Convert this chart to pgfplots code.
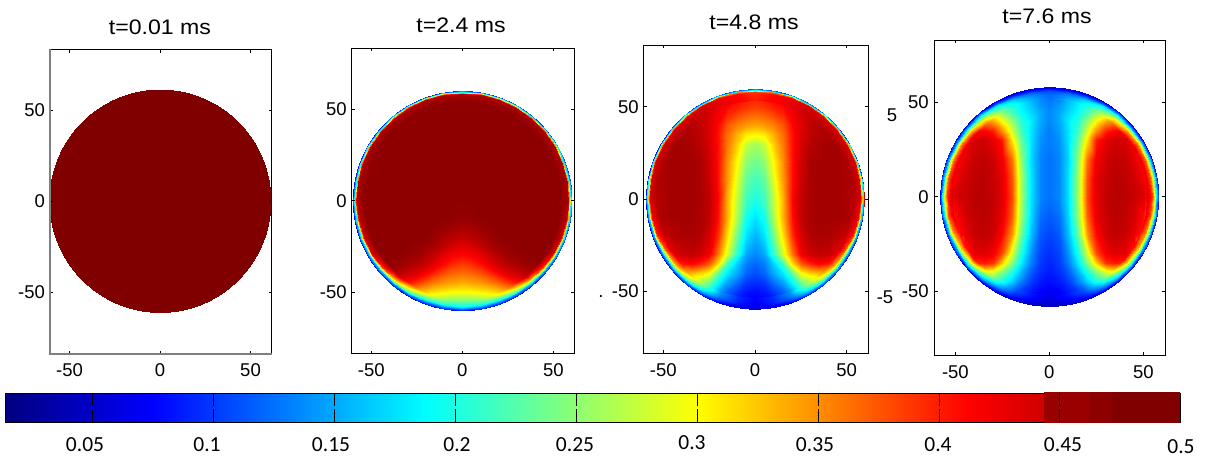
\documentclass[border=0pt]{standalone}
\usepackage{pgfplots}
\usepackage{pgfplotstable}
\usepackage{fontspec}
\setmainfont{Liberation Sans}
\newfontfamily\calibri{Carlito}
\pgfplotsset{compat=1.18}
\pgfplotsset{colormap={jetbar}{rgb(14pt)=(0,0,.5); rgb(75pt)=(0,0,1); rgb(188pt)=(0,1,1); rgb(300pt)=(1,1,0); rgb(412pt)=(1,0,0); rgb(500pt)=(.5,0,0)}}
\pgfplotsset{panel/.style={scale only axis, anchor=south west, colormap name=jetbar, axis on top,
  point meta min=0.014, point meta max=0.5,
  xtick={-50,0,50}, ytick={-50,0,50}, tick align=inside, major tick length=3pt,
  tick style={black,line width=.7pt}, axis line style={black,line width=.9pt},
  /pgf/number format/assume math mode=true,
  ticklabel style={font=\fontsize{18.5}{19}\selectfont},
  xticklabel style={yshift=-6.5pt}, yticklabel style={xshift=-1.5pt}},
  fieldp/.style={surf, shader=interp, mesh/cols=13, point meta=\thisrow{v}},
  rimp/.style={surf, shader=interp, mesh/cols=5, point meta=\thisrow{v}}}

% ---- t=0.01 ms
\pgfplotstableread[row sep=\\]{x y v\\ -70 -70 .5\\ 70 -70 .5\\ -70 70 .5\\ 70 70 .5\\}\Aone

% ---- t=2.4 ms, right half; the left half is its mirror image
\pgfplotstableread[row sep=\\]{x y v\\
0 -60 .14\\5 -60 .14\\10 -60 .14\\15 -60 .14\\20 -60 .14\\25 -60 .14\\30 -60 .14\\35 -60 .14\\40 -60 .14\\45 -60 .14\\50 -60 .14\\55 -60 .14\\60 -60 .14\\
0 -55 .24\\5 -55 .24\\10 -55 .245\\15 -55 .25\\20 -55 .26\\25 -55 .27\\30 -55 .27\\35 -55 .27\\40 -55 .27\\45 -55 .27\\50 -55 .27\\55 -55 .27\\60 -55 .27\\
0 -50 .30\\5 -50 .30\\10 -50 .305\\15 -50 .31\\20 -50 .32\\25 -50 .33\\30 -50 .34\\35 -50 .35\\40 -50 .35\\45 -50 .35\\50 -50 .35\\55 -50 .35\\60 -50 .35\\
0 -45 .335\\5 -45 .34\\10 -45 .345\\15 -45 .355\\20 -45 .37\\25 -45 .385\\30 -45 .40\\35 -45 .42\\40 -45 .43\\45 -45 .43\\50 -45 .43\\55 -45 .43\\60 -45 .43\\
0 -40 .36\\5 -40 .365\\10 -40 .375\\15 -40 .39\\20 -40 .41\\25 -40 .43\\30 -40 .445\\35 -40 .46\\40 -40 .47\\45 -40 .48\\50 -40 .48\\55 -40 .48\\60 -40 .48\\
0 -35 .385\\5 -35 .39\\10 -35 .405\\15 -35 .425\\20 -35 .445\\25 -35 .46\\30 -35 .47\\35 -35 .48\\40 -35 .485\\45 -35 .49\\50 -35 .49\\55 -35 .49\\60 -35 .49\\
0 -30 .41\\5 -30 .415\\10 -30 .43\\15 -30 .45\\20 -30 .465\\25 -30 .48\\30 -30 .485\\35 -30 .49\\40 -30 .49\\45 -30 .49\\50 -30 .49\\55 -30 .49\\60 -30 .49\\
0 -25 .43\\5 -25 .44\\10 -25 .455\\15 -25 .47\\20 -25 .48\\25 -25 .485\\30 -25 .49\\35 -25 .49\\40 -25 .49\\45 -25 .49\\50 -25 .49\\55 -25 .49\\60 -25 .49\\
0 -20 .455\\5 -20 .46\\10 -20 .47\\15 -20 .48\\20 -20 .49\\25 -20 .49\\30 -20 .49\\35 -20 .49\\40 -20 .49\\45 -20 .49\\50 -20 .49\\55 -20 .49\\60 -20 .49\\
0 -10 .485\\5 -10 .487\\10 -10 .49\\15 -10 .49\\20 -10 .49\\25 -10 .49\\30 -10 .49\\35 -10 .49\\40 -10 .49\\45 -10 .49\\50 -10 .49\\55 -10 .49\\60 -10 .49\\
0 0 .49\\5 0 .49\\10 0 .49\\15 0 .49\\20 0 .49\\25 0 .49\\30 0 .49\\35 0 .49\\40 0 .49\\45 0 .49\\50 0 .49\\55 0 .49\\60 0 .49\\
0 62 .49\\5 62 .49\\10 62 .49\\15 62 .49\\20 62 .49\\25 62 .49\\30 62 .49\\35 62 .49\\40 62 .49\\45 62 .49\\50 62 .49\\55 62 .49\\60 62 .49\\
}\Atwo
\pgfplotstableread[row sep=\\]{r t v\\
54.2 -90 .25\\56.7 -90 .21\\58.2 -90 .185\\59.2 -90 .13\\60.6 -90 .07\\
54.2 -80 .265\\56.7 -80 .215\\58.2 -80 .185\\59.2 -80 .13\\60.6 -80 .07\\
54.2 -70 .30\\56.7 -70 .235\\58.2 -70 .19\\59.2 -70 .13\\60.6 -70 .07\\
54.2 -60 .365\\56.7 -60 .28\\58.2 -60 .21\\59.2 -60 .14\\60.6 -60 .07\\
54.2 -50 .445\\56.7 -50 .34\\58.2 -50 .24\\59.2 -50 .15\\60.6 -50 .07\\
54.2 -40 .48\\57 -40 .39\\58.4 -40 .27\\59.3 -40 .16\\60.6 -40 .07\\
54.2 -30 .49\\57.7 -30 .44\\58.8 -30 .30\\59.5 -30 .17\\60.6 -30 .07\\
54.2 -20 .49\\57.8 -20 .45\\58.8 -20 .32\\59.5 -20 .18\\60.6 -20 .07\\
54.2 -10 .49\\57.9 -10 .46\\58.8 -10 .34\\59.5 -10 .18\\60.6 -10 .08\\
54.2 0 .49\\57.9 0 .47\\58.8 0 .35\\59.5 0 .19\\60.6 0 .08\\
54.2 10 .49\\58.1 10 .47\\59 10 .36\\59.6 10 .2\\60.6 10 .09\\
54.2 20 .49\\58.3 20 .47\\59.1 20 .36\\59.7 20 .2\\60.6 20 .09\\
54.2 30 .49\\58.6 30 .47\\59.3 30 .36\\59.8 30 .2\\60.6 30 .09\\
54.2 40 .49\\58.7 40 .47\\59.3 40 .36\\59.8 40 .2\\60.6 40 .09\\
54.2 50 .49\\58.7 50 .47\\59.3 50 .36\\59.8 50 .2\\60.6 50 .09\\
54.2 60 .49\\58.7 60 .47\\59.3 60 .36\\59.8 60 .2\\60.6 60 .09\\
54.2 70 .49\\58.7 70 .47\\59.3 70 .36\\59.8 70 .2\\60.6 70 .09\\
54.2 80 .49\\58.7 80 .47\\59.3 80 .36\\59.8 80 .2\\60.6 80 .09\\
54.2 90 .49\\58.7 90 .47\\59.3 90 .36\\59.8 90 .2\\60.6 90 .09\\
}\Atworim

% ---- t=4.8 ms
\pgfplotstableread[row sep=\\]{x y v\\
0 -60 .05\\5 -60 .05\\10 -60 .05\\15 -60 .05\\20 -60 .05\\25 -60 .05\\30 -60 .05\\35 -60 .05\\40 -60 .05\\45 -60 .05\\50 -60 .05\\55 -60 .05\\60 -60 .05\\
0 -55 .07\\5 -55 .075\\10 -55 .08\\15 -55 .095\\20 -55 .11\\25 -55 .13\\30 -55 .15\\35 -55 .15\\40 -55 .15\\45 -55 .15\\50 -55 .15\\55 -55 .15\\60 -55 .15\\
0 -50 .08\\5 -50 .085\\10 -50 .10\\15 -50 .12\\20 -50 .15\\25 -50 .19\\30 -50 .22\\35 -50 .25\\40 -50 .25\\45 -50 .25\\50 -50 .25\\55 -50 .25\\60 -50 .25\\
0 -45 .095\\5 -45 .10\\10 -45 .125\\15 -45 .15\\20 -45 .19\\25 -45 .24\\30 -45 .26\\35 -45 .27\\40 -45 .25\\45 -45 .25\\50 -45 .25\\55 -45 .25\\60 -45 .25\\
0 -40 .11\\5 -40 .12\\10 -40 .15\\15 -40 .18\\20 -40 .23\\25 -40 .30\\30 -40 .32\\35 -40 .33\\40 -40 .31\\45 -40 .25\\50 -40 .25\\55 -40 .25\\60 -40 .25\\
0 -35 .12\\5 -35 .13\\10 -35 .165\\15 -35 .215\\20 -35 .31\\25 -35 .37\\30 -35 .395\\35 -35 .41\\40 -35 .40\\45 -35 .37\\50 -35 .35\\55 -35 .35\\60 -35 .35\\
0 -30 .135\\5 -30 .15\\10 -30 .205\\15 -30 .285\\20 -30 .36\\25 -30 .42\\30 -30 .445\\35 -30 .455\\40 -30 .45\\45 -30 .43\\50 -30 .40\\55 -30 .40\\60 -30 .40\\
0 -20 .155\\5 -20 .175\\10 -20 .235\\15 -20 .315\\20 -20 .39\\25 -20 .44\\30 -20 .465\\35 -20 .47\\40 -20 .47\\45 -20 .46\\50 -20 .45\\55 -20 .45\\60 -20 .45\\
0 -10 .175\\5 -10 .195\\10 -10 .26\\15 -10 .335\\20 -10 .405\\25 -10 .455\\30 -10 .47\\35 -10 .475\\40 -10 .475\\45 -10 .475\\50 -10 .47\\55 -10 .46\\60 -10 .45\\
0 0 .20\\5 0 .215\\10 0 .27\\15 0 .335\\20 0 .41\\25 0 .455\\30 0 .47\\35 0 .475\\40 0 .475\\45 0 .475\\50 0 .47\\55 0 .46\\60 0 .45\\
0 10 .215\\5 10 .23\\10 10 .285\\15 10 .345\\20 10 .405\\25 10 .45\\30 10 .47\\35 10 .475\\40 10 .475\\45 10 .475\\50 10 .47\\55 10 .47\\60 10 .45\\
0 20 .235\\5 20 .25\\10 20 .30\\15 20 .35\\20 20 .405\\25 20 .445\\30 20 .47\\35 20 .475\\40 20 .475\\45 20 .475\\50 20 .47\\55 20 .47\\60 20 .47\\
0 30 .26\\5 30 .275\\10 30 .32\\15 30 .36\\20 30 .405\\25 30 .44\\30 30 .46\\35 30 .47\\40 30 .475\\45 30 .475\\50 30 .47\\55 30 .47\\60 30 .47\\
0 35 .305\\5 35 .31\\10 35 .335\\15 35 .365\\20 35 .405\\25 35 .437\\30 35 .457\\35 35 .467\\40 35 .472\\45 35 .472\\50 35 .47\\55 35 .47\\60 35 .47\\
0 40 .34\\5 40 .345\\10 40 .355\\15 40 .375\\20 40 .41\\25 40 .435\\30 40 .455\\35 40 .465\\40 40 .47\\45 40 .47\\50 40 .47\\55 40 .47\\60 40 .47\\
0 50 .385\\5 50 .39\\10 50 .40\\15 50 .41\\20 50 .425\\25 50 .44\\30 50 .45\\35 50 .455\\40 50 .46\\45 50 .46\\50 50 .46\\55 50 .46\\60 50 .46\\
0 60 .41\\5 60 .41\\10 60 .42\\15 60 .43\\20 60 .44\\25 60 .45\\30 60 .46\\35 60 .46\\40 60 .46\\45 60 .46\\50 60 .46\\55 60 .46\\60 60 .46\\
}\Athree
\pgfplotstableread[row sep=\\]{r t v\\
53.5 -90 .075\\56 -90 .07\\57.5 -90 .065\\58.5 -90 .06\\59.9 -90 .05\\
53.5 -80 .095\\56 -80 .09\\57.5 -80 .085\\58.5 -80 .07\\59.9 -80 .05\\
53.5 -70 .14\\56 -70 .13\\57.5 -70 .11\\58.5 -70 .09\\59.9 -70 .06\\
53.5 -60 .24\\56 -60 .2\\57.5 -60 .165\\58.5 -60 .12\\59.9 -60 .06\\
53.5 -50 .33\\56 -50 .28\\57.5 -50 .22\\58.5 -50 .14\\59.9 -50 .07\\
53.5 -40 .40\\56 -40 .33\\57.5 -40 .25\\58.5 -40 .15\\59.9 -40 .07\\
53.5 -30 .44\\56 -30 .37\\57.5 -30 .27\\58.5 -30 .16\\59.9 -30 .07\\
53.5 -20 .45\\56.8 -20 .40\\57.9 -20 .29\\58.7 -20 .17\\59.9 -20 .07\\
53.5 -10 .46\\57 -10 .42\\58 -10 .31\\58.8 -10 .18\\59.9 -10 .08\\
53.5 0 .465\\57.4 0 .44\\58.2 0 .33\\58.9 0 .19\\59.9 0 .08\\
53.5 10 .47\\57.6 10 .44\\58.3 10 .35\\59 10 .2\\59.9 10 .08\\
53.5 20 .47\\57.8 20 .44\\58.5 20 .36\\59.1 20 .2\\59.9 20 .08\\
53.5 30 .47\\58 30 .44\\58.6 30 .36\\59.1 30 .2\\59.9 30 .09\\
53.5 40 .47\\58 40 .44\\58.6 40 .36\\59.1 40 .2\\59.9 40 .09\\
53.5 50 .46\\58 50 .44\\58.6 50 .36\\59.1 50 .2\\59.9 50 .09\\
53.5 60 .45\\58 60 .44\\58.6 60 .36\\59.1 60 .2\\59.9 60 .09\\
53.5 70 .43\\58 70 .42\\58.6 70 .36\\59.1 70 .2\\59.9 70 .09\\
53.5 80 .415\\58 80 .41\\58.6 80 .35\\59.1 80 .2\\59.9 80 .09\\
53.5 90 .40\\58 90 .39\\58.6 90 .34\\59.1 90 .2\\59.9 90 .09\\
}\Athreerim

% ---- t=7.6 ms
\pgfplotstableread[row sep=\\]{x y v\\
0 -60 .04\\5 -60 .04\\10 -60 .04\\15 -60 .04\\20 -60 .04\\25 -60 .04\\30 -60 .04\\35 -60 .04\\40 -60 .04\\45 -60 .04\\50 -60 .04\\55 -60 .04\\60 -60 .04\\
0 -55 .055\\5 -55 .06\\10 -55 .065\\15 -55 .07\\20 -55 .075\\25 -55 .08\\30 -55 .08\\35 -55 .08\\40 -55 .08\\45 -55 .08\\50 -55 .08\\55 -55 .08\\60 -55 .08\\
0 -50 .07\\5 -50 .075\\10 -50 .085\\15 -50 .10\\20 -50 .115\\25 -50 .13\\30 -50 .135\\35 -50 .13\\40 -50 .13\\45 -50 .13\\50 -50 .13\\55 -50 .13\\60 -50 .13\\
0 -45 .08\\5 -45 .085\\10 -45 .10\\15 -45 .13\\20 -45 .165\\25 -45 .195\\30 -45 .215\\35 -45 .205\\40 -45 .17\\45 -45 .13\\50 -45 .13\\55 -45 .13\\60 -45 .13\\
0 -40 .085\\5 -40 .095\\10 -40 .115\\15 -40 .155\\20 -40 .20\\25 -40 .245\\30 -40 .285\\35 -40 .295\\40 -40 .26\\45 -40 .16\\50 -40 .16\\55 -40 .16\\60 -40 .16\\
0 -35 .09\\5 -35 .10\\10 -35 .13\\15 -35 .18\\20 -35 .245\\25 -35 .32\\30 -35 .39\\35 -35 .40\\40 -35 .39\\45 -35 .33\\50 -35 .17\\55 -35 .17\\60 -35 .17\\
0 -30 .095\\5 -30 .105\\10 -30 .14\\15 -30 .20\\20 -30 .285\\25 -30 .38\\30 -30 .42\\35 -30 .435\\40 -30 .43\\45 -30 .39\\50 -30 .25\\55 -30 .1\\60 -30 .1\\
0 -20 .105\\5 -20 .115\\10 -20 .16\\15 -20 .235\\20 -20 .345\\25 -20 .41\\30 -20 .445\\35 -20 .455\\40 -20 .45\\45 -20 .43\\50 -20 .39\\55 -20 .25\\60 -20 .1\\
0 -10 .115\\5 -10 .125\\10 -10 .17\\15 -10 .255\\20 -10 .37\\25 -10 .425\\30 -10 .45\\35 -10 .46\\40 -10 .455\\45 -10 .44\\50 -10 .41\\55 -10 .33\\60 -10 .1\\
0 0 .125\\5 0 .135\\10 0 .175\\15 0 .26\\20 0 .38\\25 0 .43\\30 0 .455\\35 0 .46\\40 0 .46\\45 0 .45\\50 0 .44\\55 0 .38\\60 0 .1\\
0 10 .125\\5 10 .135\\10 10 .175\\15 10 .26\\20 10 .375\\25 10 .43\\30 10 .45\\35 10 .46\\40 10 .455\\45 10 .445\\50 10 .42\\55 10 .34\\60 10 .1\\
0 20 .125\\5 20 .135\\10 20 .17\\15 20 .25\\20 20 .36\\25 20 .42\\30 20 .445\\35 20 .455\\40 20 .45\\45 20 .43\\50 20 .40\\55 20 .25\\60 20 .1\\
0 30 .13\\5 30 .14\\10 30 .175\\15 30 .23\\20 30 .31\\25 30 .40\\30 30 .43\\35 30 .445\\40 30 .44\\45 30 .41\\50 30 .30\\55 30 .1\\60 30 .1\\
0 35 .13\\5 35 .145\\10 35 .175\\15 35 .215\\20 35 .28\\25 35 .35\\30 35 .40\\35 35 .415\\40 35 .41\\45 35 .37\\50 35 .25\\55 35 .1\\60 35 .1\\
0 40 .135\\5 40 .15\\10 40 .18\\15 40 .205\\20 40 .25\\25 40 .30\\30 40 .34\\35 40 .35\\40 40 .34\\45 40 .33\\50 40 .1\\55 40 .1\\60 40 .1\\
0 45 .135\\5 45 .15\\10 45 .17\\15 45 .19\\20 45 .215\\25 45 .245\\30 45 .27\\35 45 .285\\40 45 .27\\45 45 .15\\50 45 .15\\55 45 .15\\60 45 .15\\
0 50 .13\\5 50 .14\\10 50 .16\\15 50 .18\\20 50 .195\\25 50 .20\\30 50 .16\\35 50 .16\\40 50 .16\\45 50 .16\\50 50 .16\\55 50 .16\\60 50 .16\\
0 55 .12\\5 55 .125\\10 55 .14\\15 55 .13\\20 55 .08\\25 55 .08\\30 55 .08\\35 55 .08\\40 55 .08\\45 55 .08\\50 55 .08\\55 55 .08\\60 55 .08\\
0 60 .05\\5 60 .05\\10 60 .05\\15 60 .05\\20 60 .05\\25 60 .05\\30 60 .05\\35 60 .05\\40 60 .05\\45 60 .05\\50 60 .05\\55 60 .05\\60 60 .05\\
}\Afour
\pgfplotstableread[row sep=\\]{r t v\\
52 -90 .065\\54.5 -90 .06\\56 -90 .055\\57 -90 .05\\58.4 -90 .035\\
52 -80 .085\\54.5 -80 .075\\56 -80 .065\\57 -80 .055\\58.4 -80 .04\\
52 -70 .115\\54.5 -70 .10\\56 -70 .085\\57 -70 .07\\58.4 -70 .04\\
52 -60 .19\\54.5 -60 .15\\56 -60 .12\\57 -60 .09\\58.4 -60 .05\\
52 -50 .29\\54.5 -50 .22\\56 -50 .16\\57 -50 .11\\58.4 -50 .05\\
52 -40 .40\\54.5 -40 .29\\56 -40 .20\\57 -40 .14\\58.4 -40 .06\\
52 -30 .41\\54.5 -30 .33\\56 -30 .24\\57 -30 .15\\58.4 -30 .07\\
52 -20 .41\\54.5 -20 .35\\56 -20 .26\\57 -20 .17\\58.4 -20 .07\\
52 -10 .43\\54.5 -10 .38\\56 -10 .28\\57 -10 .18\\58.4 -10 .08\\
52 0 .44\\54.5 0 .39\\56 0 .29\\57 0 .19\\58.4 0 .08\\
52 10 .43\\54.5 10 .38\\56 10 .28\\57 10 .18\\58.4 10 .08\\
52 20 .43\\54.5 20 .37\\56 20 .27\\57 20 .17\\58.4 20 .07\\
52 30 .43\\54.5 30 .36\\56 30 .26\\57 30 .16\\58.4 30 .07\\
52 40 .41\\54.5 40 .33\\56 40 .23\\57 40 .15\\58.4 40 .06\\
52 50 .35\\54.5 50 .28\\56 50 .21\\57 50 .14\\58.4 50 .06\\
52 60 .25\\54.5 60 .21\\56 60 .17\\57 60 .12\\58.4 60 .05\\
52 70 .195\\54.5 70 .17\\56 70 .14\\57 70 .10\\58.4 70 .05\\
52 80 .155\\54.5 80 .14\\56 80 .12\\57 80 .09\\58.4 80 .05\\
52 90 .125\\54.5 90 .12\\56 90 .11\\57 90 .09\\58.4 90 .05\\
}\Afourrim

\pgfplotstableread[row sep=\\]{x y v\\ 0.014 0 .014\\ 0.4996 0 .4996\\ 0.014 1 .014\\ 0.4996 1 .4996\\}\Abar

\newcommand\halves[2]{%
  \addplot[fieldp] table[x=x,y=y] {#1};
  \addplot[fieldp] table[x expr=-\thisrow{x},y=y] {#1};
  \addplot[rimp] table[x expr=\thisrow{r}*cos(\thisrow{t}),y expr=\thisrow{r}*sin(\thisrow{t})] {#2};
  \addplot[rimp] table[x expr=-\thisrow{r}*cos(\thisrow{t}),y expr=\thisrow{r}*sin(\thisrow{t})] {#2};}

\begin{document}
\begin{tikzpicture}[x=1pt,y=1pt]
\path[use as bounding box] (0,0) rectangle (1205,459);

\begin{axis}[panel, at={(50pt,105pt)}, width=221.5pt, height=304.5pt,
  xmin=-60.8, xmax=61.6, ymin=-84.1, ymax=83.2]
  \clip (axis cs:0,0) ellipse [x radius=61.3, y radius=61.3];
  \addplot[surf, shader=interp, mesh/cols=2, point meta=\thisrow{v}] table[x=x,y=y] {\Aone};
\end{axis}
\draw[gray,line width=1.2pt] (50,409.5) -- (50,105) -- (271.5,105);

\begin{axis}[panel, at={(351.7pt,105.3pt)}, width=222.6pt, height=305.4pt,
  xmin=-60.8, xmax=61.5, ymin=-83.9, ymax=83.6]
  \clip (axis cs:0,0) ellipse [x radius=60.3, y radius=60.3];
  \halves{\Atwo}{\Atworim}
\end{axis}

\begin{axis}[panel, at={(643.7pt,105.7pt)}, width=224.6pt, height=308.3pt,
  xmin=-60.7, xmax=61.8, ymin=-83.5, ymax=83.4]
  \clip (axis cs:0,0) ellipse [x radius=59.6, y radius=59.6];
  \halves{\Athree}{\Athreerim}
\end{axis}

\begin{axis}[panel, at={(934.7pt,104pt)}, width=230.6pt, height=315pt,
  xmin=-61, xmax=61.7, ymin=-84, ymax=83.2,
  xticklabel style={yshift=-1pt}, yticklabel style={xshift=-1pt}]
  \clip (axis cs:0,0) ellipse [x radius=58.2, y radius=58.2];
  \halves{\Afour}{\Afourrim}
\end{axis}

% colour bar
\begin{axis}[scale only axis, anchor=south west, at={(5pt,37pt)}, width=1175pt, height=29pt,
  colormap name=jetbar, point meta min=0.014, point meta max=0.5, axis on top,
  xmin=0.014, xmax=0.4996, ymin=0, ymax=1, ytick=\empty,
  xtick={.05,.1,.15,.2,.25,.3,.35,.4,.45}, xticklabels={},
  tick align=inside, major tick length=13pt,
  tick style={black,line width=.7pt}, axis line style={black,line width=.8pt}, clip=false]
  \addplot[surf, shader=interp, mesh/cols=2, point meta=\thisrow{v}] table[x=x,y=y] {\Abar};
\end{axis}
\fill[red!60!black] (1044,36) rectangle (1100,67);
\fill[red!55!black] (1090,36) rectangle (1112,67);
\fill[red!50!black] (1112,36.5) rectangle (1180,67.5);
\draw[black,line width=.7pt] (1059,37) -- (1059,50) (1059,53) -- (1059,66);

% colour-bar numbers
\begin{scope}[every node/.style={font=\calibri\fontsize{21.5}{22}\selectfont, inner sep=0pt}]
\node at (85,14) {0.05};
\node at (207,14) {0.1};
\node at (331,14) {0.15};
\node at (457,14) {0.2};
\node at (575,14) {0.25};
\node at (692,16) {0.3};
\node at (815,14) {0.35};
\node at (938,14) {0.4};
\node at (1063,14) {0.45};
\node at (1181,12) {0.5};
\end{scope}

% titles
\begin{scope}[every node/.style={font=\fontsize{21}{22}\selectfont, inner sep=0pt, xscale=1.1}]
\node at (160,432) {t=0.01 ms};
\node at (461,434) {t=2.4 ms};
\node at (754,437) {t=4.8 ms};
\node at (1047,443) {t=7.6 ms};
\end{scope}

% cut-off pieces of other labels in the source picture
\begin{scope}[every node/.style={font=\fontsize{18.5}{19}\selectfont, inner sep=0pt}]
\node at (892,344) {5};
\node at (885,162) {-5};
\node at (601,162) {.};
\end{scope}
\end{tikzpicture}
\end{document}
